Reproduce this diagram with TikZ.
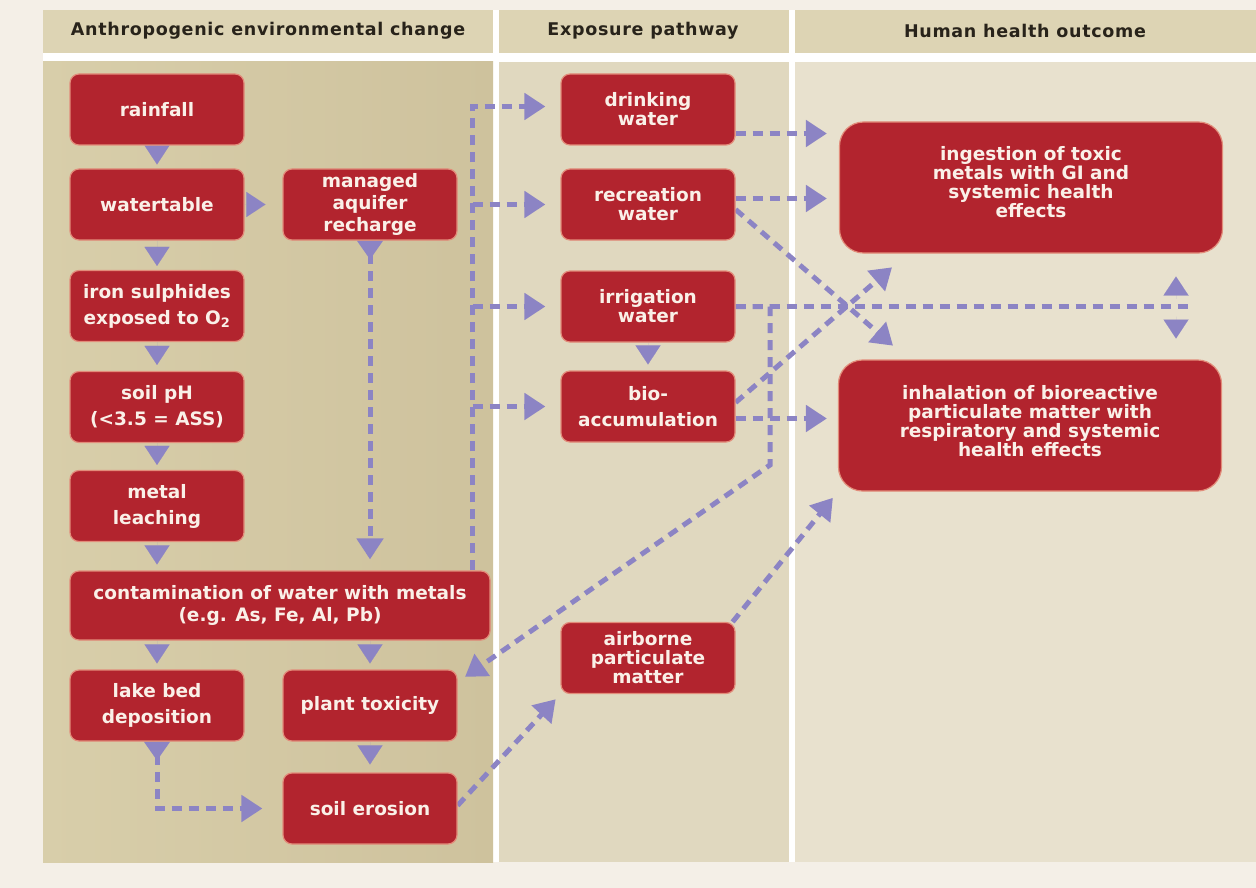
\documentclass[tikz,border=0pt]{standalone}
\usepackage{fontspec}
\setmainfont{DejaVu Sans}
\usetikzlibrary{arrows.meta,calc}
\definecolor{bgout}{RGB}{244,239,231}
\definecolor{hdr}{RGB}{221,212,180}
\definecolor{hdrtext}{RGB}{40,35,26}
\definecolor{colA}{RGB}{216,206,170}
\definecolor{colAdark}{RGB}{206,194,157}
\definecolor{colB}{RGB}{224,216,191}
\definecolor{colC}{RGB}{232,225,206}
\definecolor{boxred}{RGB}{178,36,46}
\definecolor{boxedge}{RGB}{226,140,122}
\definecolor{boxtext}{RGB}{250,240,232}
\definecolor{arrowc}{RGB}{140,132,196}
\pgfdeclarelayer{bg}
\pgfdeclarelayer{conn}
\pgfsetlayers{bg,conn,main}
\tikzset{
  box/.style={rectangle, rounded corners=9pt, fill=boxred, draw=boxedge, line width=1.2pt,
    text=boxtext, align=center, minimum width=174pt, minimum height=71pt, inner sep=2pt,
    font=\bfseries\fontsize{18.5}{22}\selectfont},
  lsA/.style={font=\bfseries\fontsize{18.5}{19}\selectfont},
  lsB/.style={font=\bfseries\fontsize{18.5}{22}\selectfont},
  lsC/.style={font=\bfseries\fontsize{18.5}{26}\selectfont},
  bigbox/.style={box, rounded corners=24pt, minimum width=383pt, minimum height=131pt},
  hdrtxt/.style={text=hdrtext, font=\bfseries\fontsize{17.5}{20}\selectfont\addfontfeatures{LetterSpace=4}},
  dline/.style={draw=arrowc, line width=5pt, dash pattern=on 10pt off 7pt,
    -{Triangle[width=26pt,length=21pt]}},
  tri/.style={draw=arrowc, line width=0.01pt, -{Triangle[width=25pt,length=19pt]}},
  dtri/.style={draw=arrowc, line width=5pt, dash pattern=on 10pt off 7pt,
    {Triangle[reversed,width=25pt,length=19pt]}-{Triangle[width=26pt,length=21pt]}}
}
\begin{document}
\begin{tikzpicture}[x=1pt,y=-1pt]
\useasboundingbox (0,0) rectangle (1256,888);
\begin{pgfonlayer}{bg}
\fill[bgout] (0,0) rectangle (1256,888);
\fill[white] (43,10) rectangle (1256,862);
\fill[hdr] (43,10) rectangle (493,53);
\fill[hdr] (499,10) rectangle (789,53);
\fill[hdr] (795,10) rectangle (1256,53);
\shade[left color=colA, right color=colAdark] (43,62) rectangle (493,862);
\fill[colB] (499,62) rectangle (789,862);
\fill[colC] (795,62) rectangle (1256,862);
\end{pgfonlayer}

\node[hdrtxt] (h1) at (268,31) {Anthropogenic environmental change};
\node[hdrtxt] (h2) at (643,31) {Exposure pathway};
\node[hdrtxt] (h3) at (1025,31) {Human health outcome};

\node[box] (rainfall) at (157,109.5) {rainfall};
\node[box] (watertable) at (157,204.5) {watertable};
\node[box,lsB] (managed) at (370,204.5) {managed\\aquifer\\recharge};
\node[box,lsC] (iron) at (157,306) {iron sulphides\\exposed to O\textsubscript{2}};
\node[box,lsC] (soilph) at (157,407) {soil pH\\(<3.5 = ASS)};
\node[box,lsC] (leach) at (157,506) {metal\\leaching};
\node[box,lsB,minimum width=420pt,minimum height=69pt] (contam) at (280,605.5) {contamination of water with metals\\(e.g. As, Fe, Al, Pb)};
\node[box,lsC] (lakebed) at (157,705.5) {lake bed\\deposition};
\node[box] (planttox) at (370,705.5) {plant toxicity};
\node[box] (erosion) at (370,808.5) {soil erosion};

\node[box,lsA] (drinking) at (648,109.5) {drinking\\water};
\node[box,lsA] (recreation) at (648,204.5) {recreation\\water};
\node[box,lsA] (irrigation) at (648,306.5) {irrigation\\water};
\node[box,lsC] (bioacc) at (648,406.5) {bio-\\accumulation};
\node[box,lsA] (airborne) at (648,658) {airborne\\particulate\\matter};

\node[bigbox,lsA] (ingest) at (1031,187.5) {ingestion of toxic\\metals with GI and\\systemic health\\effects\\[-7pt]};
\node[bigbox,lsA] (inhale) at (1030,425.5) {inhalation of bioreactive\\particulate matter with\\respiratory and systemic\\health effects\\[-10pt]};

\begin{pgfonlayer}{conn}
% solid triangles
\draw[tri] (rainfall.south) -- ([yshift=4pt]watertable.north);
\draw[tri] (watertable.south) -- ([yshift=4pt]iron.north);
\draw[tri] (iron.south) -- ([yshift=6pt]soilph.north);
\draw[tri] (soilph.south) -- ([yshift=5pt]leach.north);
\draw[tri] (leach.south) -- ($(leach.south |- contam.north)+(0,-6)$);
\draw[tri] (lakebed.north |- contam.south) -- ([yshift=6pt]lakebed.north);
\draw[tri] (planttox.north |- contam.south) -- ([yshift=6pt]planttox.north);
\draw[tri] (planttox.south) -- ([yshift=8pt]erosion.north);
\draw[tri] (irrigation.south) -- ([yshift=6pt]bioacc.north);
\draw[tri] (watertable.east) -- ([xshift=-17pt]managed.west);

% dashed with start triangle
\draw[dtri, shorten >=11pt] (managed.south) -- (managed.south |- contam.north);
\draw[dtri, shorten >=20pt] (lakebed.south) |- (erosion.west);

% bus from contamination to water uses
\coordinate (bus) at ([xshift=-18pt]contam.north east);
\draw[dline, shorten >=15pt] (bus) |- ([yshift=3pt]drinking.west);
\draw[dline, shorten >=15pt] (bus |- recreation.west) -- (recreation.west);
\draw[dline, shorten >=15pt] (bus |- irrigation.west) -- (irrigation.west);
\draw[dline, shorten >=15pt] (bus |- bioacc.west) -- (bioacc.west);

% to health outcomes
\coordinate (d1) at ([yshift=-24pt]drinking.east);
\draw[dline, shorten >=12pt] (d1) -- (d1 -| ingest.west);
\coordinate (r1) at ([yshift=6pt]recreation.east);
\draw[dline, shorten >=12pt] (r1) -- (r1 -| ingest.west);
\coordinate (b1) at ([yshift=-12pt]bioacc.east);
\draw[dline, shorten >=11pt] (b1) -- (b1 -| inhale.west);
\draw[dline, shorten >=21pt] ([yshift=-5pt]recreation.east) -- ($(inhale.north west)+(71,0)$);
\draw[dline, shorten >=21pt] ([yshift=4pt]bioacc.east) -- ($(ingest.south west)+(69,0)$);

% irrigation to both outcomes
\coordinate (irrEnd) at (1190,306.5);
\coordinate (irrTri) at (1176,306.5);
\draw[dline, -] (irrigation.east) -- (irrEnd);
\draw[tri] ([yshift=8pt]irrTri) -- ([yshift=30pt]irrTri);
\draw[tri] ([yshift=-10pt]irrTri) -- ([yshift=-32pt]irrTri);

% irrigation to plant toxicity
\coordinate (turn) at (770,465);
\draw[dline, shorten >=9pt] (irrigation.east) -| (turn) -- ([yshift=23.5pt]planttox.east);

% erosion / airborne
\draw[dline, shorten >=7pt] ([yshift=3pt]erosion.east) -- (airborne.south west);
\draw[dline, shorten >=8pt] ([xshift=-3pt]airborne.north east) -- (inhale.south west);
\end{pgfonlayer}
\end{tikzpicture}
\end{document}
